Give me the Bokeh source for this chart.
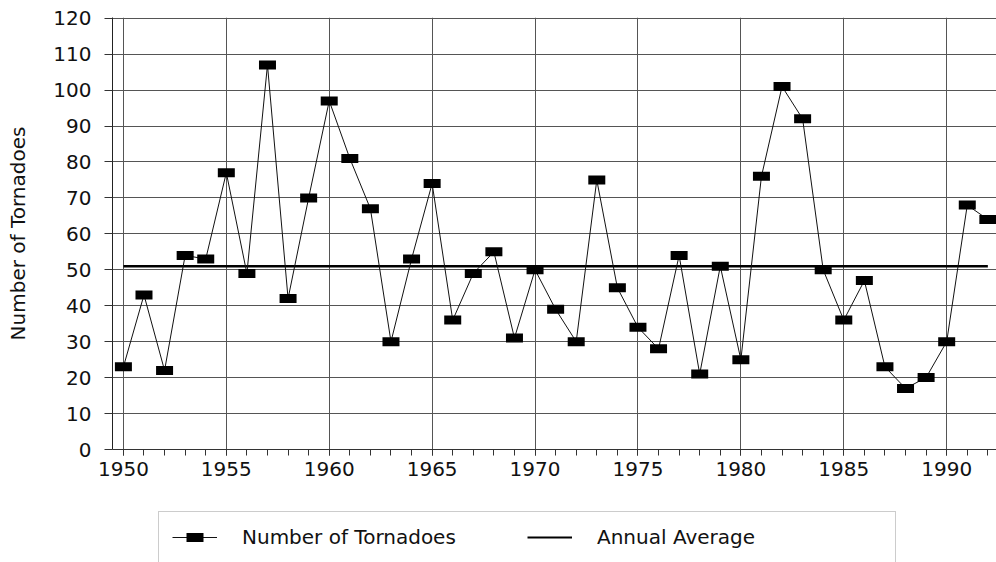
from bokeh.plotting import figure
from bokeh.models import FixedTicker, Legend, LegendItem, Range1d
from bokeh.layouts import column
from bokeh.embed import file_html
from bokeh.resources import INLINE

# ---- data ----
years = list(range(1950, 1993))
tornadoes = [23, 43, 22, 54, 53, 77, 49, 107, 42, 70,
             97, 81, 67, 30, 53, 74, 36, 49, 55, 31,
             50, 39, 30, 75, 45, 34, 28, 54, 21, 51,
             25, 76, 101, 92, 50, 36, 47, 23, 17, 20,
             30, 68, 64]
annual_average = 51
avg_years = [1950, 1992]
avg_values = [annual_average, annual_average]
x_major_ticks = [1950, 1955, 1960, 1965, 1970, 1975, 1980, 1985, 1990]
x_minor_ticks = years
y_ticks = [0, 10, 20, 30, 40, 50, 60, 70, 80, 90, 100, 110, 120]
series_labels = ["Number of Tornadoes", "Annual Average"]

FONT = "DejaVu Sans"
W = 996
H_MAIN = 500
H_LEG = 62

p = figure(width=W, height=H_MAIN, output_backend="svg", toolbar_location=None,
           x_range=Range1d(1949.47, 1992.42), y_range=Range1d(0, 120.2),
           min_border_left=112, min_border_right=0, min_border_top=17,
           min_border_bottom=H_MAIN - 449)
p.outline_line_color = None
p.background_fill_color = "white"

# grid
p.xgrid.ticker = FixedTicker(ticks=x_major_ticks)
p.ygrid.ticker = FixedTicker(ticks=y_ticks)
for g in (p.xgrid, p.ygrid):
    g.grid_line_color = "#555555"
    g.grid_line_width = 1

# x axis
p.xaxis.ticker = FixedTicker(ticks=x_major_ticks, minor_ticks=x_minor_ticks)
p.xaxis.major_tick_out = 6
p.xaxis.major_tick_in = 0
p.xaxis.minor_tick_out = 6
p.xaxis.minor_tick_in = 0
p.xaxis.axis_line_color = "#333333"
p.xaxis.major_tick_line_color = "#333333"
p.xaxis.minor_tick_line_color = "#333333"
p.xaxis.major_label_standoff = 6
p.xaxis.major_label_text_font = FONT
p.xaxis.major_label_text_font_size = "20px"
p.xaxis.major_label_text_color = "#111111"

# y axis
p.yaxis.ticker = FixedTicker(ticks=y_ticks)
p.yaxis.major_tick_out = 8
p.yaxis.major_tick_in = 0
p.yaxis.minor_tick_line_color = None
p.yaxis.axis_line_color = "#222222"
p.yaxis.major_tick_line_color = "#333333"
p.yaxis.major_label_standoff = 13
p.yaxis.major_label_text_font = FONT
p.yaxis.major_label_text_font_size = "20px"
p.yaxis.major_label_text_color = "#111111"
p.yaxis.axis_label = "Number of Tornadoes"
p.yaxis.axis_label_text_font = FONT
p.yaxis.axis_label_text_font_style = "normal"
p.yaxis.axis_label_text_font_size = "20px"
p.yaxis.axis_label_text_color = "#111111"
p.yaxis.axis_label_standoff = 20

# series
p.line(avg_years, avg_values, line_color="black", line_width=2.5)
p.line(years, tornadoes, line_color="#111111", line_width=1)
p.scatter(years, tornadoes, marker="dash", size=8, line_width=9,
          line_cap="square", line_color="black")

# ---- legend strip below the chart ----
q = figure(width=W, height=H_LEG, output_backend="svg", toolbar_location=None,
           x_range=Range1d(0, 1), y_range=Range1d(0, 1),
           x_axis_location=None, y_axis_location=None,
           min_border=0, min_border_left=0, min_border_right=0,
           min_border_top=0, min_border_bottom=0)
q.outline_line_color = None
q.xgrid.visible = False
q.ygrid.visible = False
# legend-only renderers (kept outside the visible range)
leg_line = q.line([-20, -10], [-20, -10], line_color="#111111", line_width=1)
leg_mark = q.scatter([-15], [-15], marker="dash", size=8, line_width=9,
                     line_cap="square", line_color="black")
leg_avg = q.line([-20, -10], [-20, -10], line_color="black", line_width=2)

legend = Legend(items=[
    LegendItem(label=series_labels[0], renderers=[leg_line, leg_mark]),
    LegendItem(label=series_labels[1], renderers=[leg_avg]),
], orientation="horizontal", location=(46, -1))
legend.glyph_width = 45
legend.glyph_height = 20
legend.label_standoff = 25
legend.label_width = 285
legend.spacing = 0
legend.padding = 13
legend.margin = 0
legend.border_line_color = "#999999"
legend.border_line_width = 1
legend.background_fill_color = "white"
legend.background_fill_alpha = 1
legend.label_text_font = FONT
legend.label_text_font_size = "20px"
legend.label_text_color = "#111111"
q.add_layout(legend, "center")

layout = column(p, q, spacing=0)
open("out.html", "w").write(file_html(layout, INLINE))
